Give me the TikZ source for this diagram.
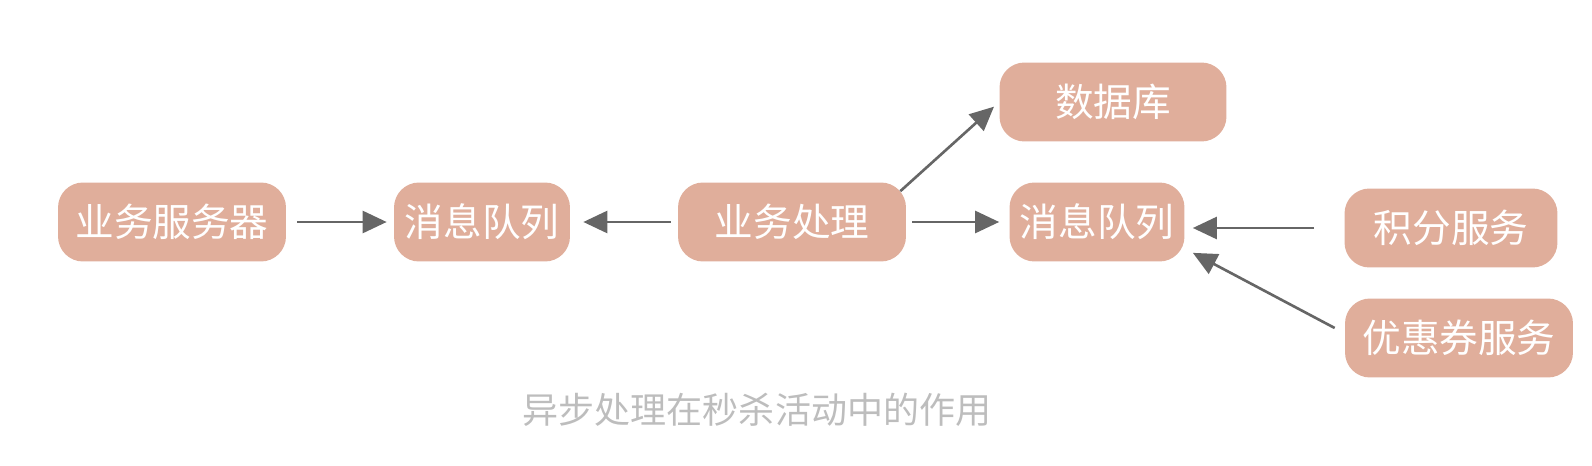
\documentclass[tikz,border=0pt]{standalone}
\usepackage{fontspec}
\usepackage{tikz}
\usetikzlibrary{arrows.meta}
\setmainfont{Noto Sans CJK SC}
\definecolor{boxfill}{HTML}{E0AE9B}
\definecolor{arrowgray}{HTML}{666666}
\definecolor{captiongray}{HTML}{BDBDBD}
\tikzset{
  box/.style={rounded corners=0.5cm, fill=boxfill, text=white, minimum height=1.58cm,
    inner sep=0pt, font=\fontsize{22}{26}\selectfont},
  flow/.style={arrowgray, line width=1.5pt, -{Triangle[length=0.48cm,width=0.44cm]}}
}
\begin{document}
\begin{tikzpicture}[x=0.02cm,y=-0.02cm]
            \useasboundingbox (0,0) rectangle (1592,466);
            \node[box,minimum width=4.56cm] (srv) at (172,222) {业务服务器};
            \node[box,minimum width=3.52cm] (mqa) at (482,222) {消息队列};
            \node[box,minimum width=4.56cm] (proc) at (792,222) {业务处理};
            \node[box,minimum width=4.54cm] (db) at (1113,102) {数据库};
            \node[box,minimum width=3.50cm] (mqb) at (1097,222) {消息队列};
            \node[box,minimum width=4.26cm] (pts) at (1451,228) {积分服务};
            \node[box,minimum width=4.56cm] (cpn) at (1459,338) {优惠券服务};
            \draw[flow,shorten <=0.22cm,shorten >=0.14cm] (srv.east) -- (mqa.west);
            \draw[flow,shorten <=0.14cm,shorten >=0.26cm] (proc.west) -- (mqa.east);
            \draw[flow,shorten >=0.14cm] ([shift={(-6,9)}]proc.north east) -- (db.west);
            \draw[flow,shorten <=0.12cm,shorten >=0.2cm] (proc.east) -- (mqb.west);
            \draw[flow,shorten <=0.6cm,shorten >=0.16cm] (pts.west) -- (mqb.east |- pts.west);
            \draw[flow] ([shift={(-10,-10)}]cpn.west) -- ([shift={(8,-9)}]mqb.south east);
            \node[text=captiongray,font=\fontsize{20.5}{24}\selectfont] (cap) at (757,410) {异步处理在秒杀活动中的作用};
        \end{tikzpicture}
\end{document}
